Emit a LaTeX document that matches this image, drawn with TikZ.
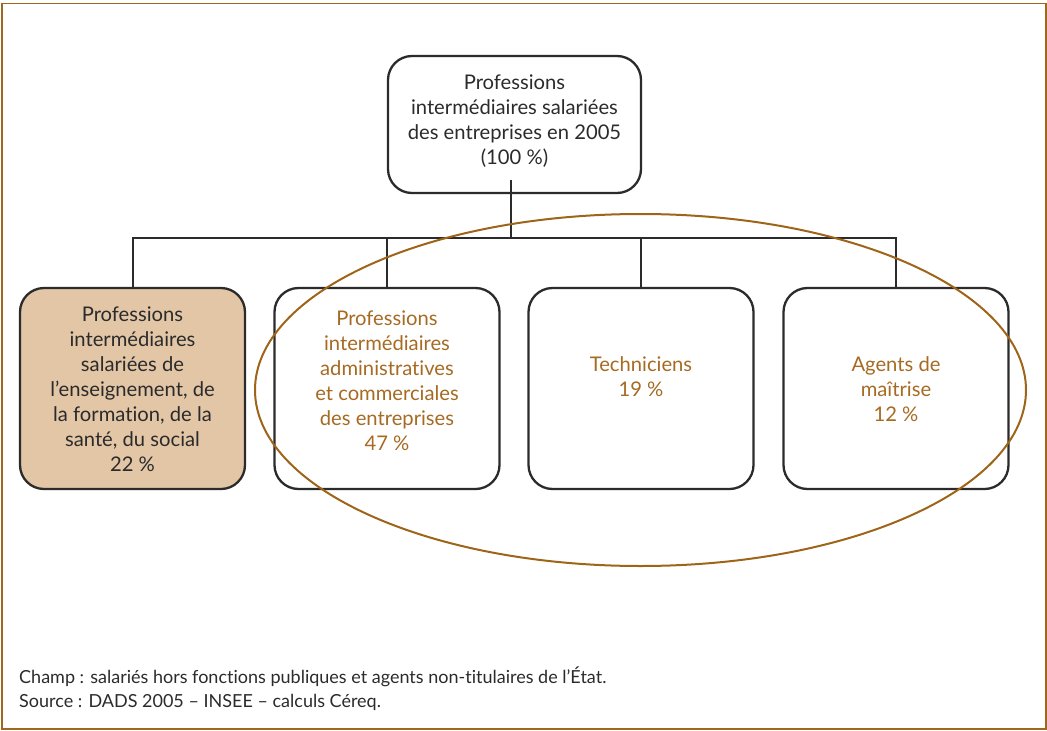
\documentclass[tikz,border=0pt]{standalone}
\usepackage{fontspec}
\setmainfont{Lato}[Ligatures={NoCommon,NoContextual}]
\definecolor{ocre}{HTML}{9E6417}
\definecolor{framecol}{HTML}{A0681F}
\definecolor{ocretext}{HTML}{A66A22}
\definecolor{tanfill}{HTML}{E2C6A6}
\definecolor{ink}{HTML}{2B2B2B}
\begin{document}
\begin{tikzpicture}[x=1pt,y=-1pt,
  box/.style={draw=ink, line width=2.3pt, rounded corners=24pt, inner sep=0pt,
              minimum width=225pt, minimum height=201pt},
  lbl/.style={align=center, font=\fontsize{20.2}{25}\selectfont, text=ink, inner sep=0pt},
  grplbl/.style={lbl, text=ocretext},
  conn/.style={draw=ink, line width=2pt},
  note/.style={anchor=base west, font=\fontsize{18}{24}\selectfont, text=ink, inner sep=0pt}]
\useasboundingbox (0,0) rectangle (1047,731);
% outer frame
\draw[framecol, line width=1.8pt] (1.8,3.5) rectangle (1045.7,729.3);

% boxes
\node[box, minimum width=253pt, minimum height=137pt] (top) at (514.5,124.5) {};
\node[box, fill=tanfill] (b1) at (132.5,388.5) {};
\node[box] (b2) at (387,388.5) {};
\node[box] (b3) at (641,388.5) {};
\node[box] (b4) at (896,388.5) {};

% box texts
\node[lbl] (ttop) at (514.5,121) {Professions\\intermédiaires salariées\\des entreprises en 2005\\(100 \%)};
\node[lbl] (t1) at (132.5,389.5) {Professions\\intermédiaires\\salariées de\\l’enseignement, de\\la formation, de la\\santé, du social\\22 \%};
\node[grplbl] (t2) at (387,381) {Professions\\intermédiaires\\administratives\\et commerciales\\des entreprises\\47 \%};
\node[grplbl] (t3) at (641,377) {Techniciens\\19 \%};
\node[grplbl] (t4) at (896,389) {Agents de\\maîtrise\\12 \%};

% tree connectors
\coordinate (stem) at (511,180);
\coordinate (jn) at (511,238);
\draw[conn] (stem) -- (jn);
\draw[conn] (b1.north) |- (b4.north |- jn) -- (b4.north);
\draw[conn] (b2.north) -- (b2.north |- jn);
\draw[conn] (b3.north) -- (b3.north |- jn);

% grouping ellipse
\draw[ocre, line width=2pt] (640.5,390) ellipse [x radius=385.5, y radius=176];

% notes
\node[note] (champ) at (19,683) {Champ : salariés hors fonctions publiques et agents non-titulaires de l’État.};
\node[note] (source) at (19,707.5) {Source : DADS 2005 – INSEE – calculs Céreq.};
\end{tikzpicture}
\end{document}
